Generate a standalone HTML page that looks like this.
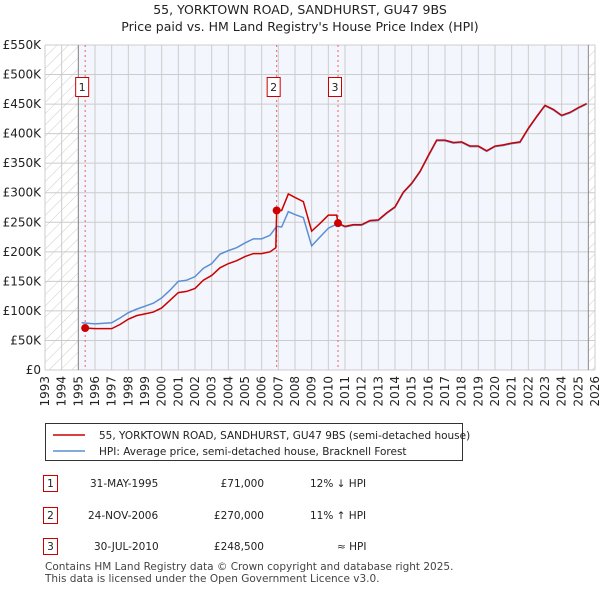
<!DOCTYPE html>
<html><head><meta charset="utf-8">
<style>
body{margin:0;background:#fff;font-family:"Liberation Sans","DejaVu Sans",sans-serif;}
svg text{font-family:"DejaVu Sans","Liberation Sans",sans-serif;}
</style></head>
<body>
<svg id="chart" width="600" height="590" viewBox="0 0 600 590" xmlns="http://www.w3.org/2000/svg">
<defs>
<pattern id="hatch" patternUnits="userSpaceOnUse" width="8" height="8" patternTransform="rotate(45)">
<line x1="0" y1="0" x2="0" y2="8" stroke="#ccc" stroke-width="1"/>
</pattern>
</defs>
<text x="300" y="14" font-size="12.5" text-anchor="middle" fill="#222">55, YORKTOWN ROAD, SANDHURST, GU47 9BS</text>
<text x="300" y="31" font-size="12.5" text-anchor="middle" fill="#222">Price paid vs. HM Land Registry's House Price Index (HPI)</text>
<g id="plot"></g>
<g>
<rect x="45.5" y="423.5" width="417" height="37" fill="#fff" stroke="#333"/>
<line x1="53" y1="435" x2="85" y2="435" stroke="#cc0000" stroke-width="1.5"/>
<text x="99" y="439" font-size="10.5" fill="#222">55, YORKTOWN ROAD, SANDHURST, GU47 9BS (semi-detached house)</text>
<line x1="53" y1="451" x2="85" y2="451" stroke="#5b8fd4" stroke-width="1.5"/>
<text x="99" y="455" font-size="10.5" fill="#222">HPI: Average price, semi-detached house, Bracknell Forest</text>
</g>
<g font-size="10.5" fill="#222">
<rect x="43.5" y="475.5" width="14" height="16" fill="#fff" stroke="#cc0000"/><text x="50.5" y="487" text-anchor="middle">1</text>
<text x="90" y="487">31-MAY-1995</text><text x="264" y="487" text-anchor="end">£71,000</text><text x="310" y="487">12% ↓ HPI</text>
<rect x="43.5" y="507.5" width="14" height="16" fill="#fff" stroke="#cc0000"/><text x="50.5" y="519" text-anchor="middle">2</text>
<text x="88" y="519">24-NOV-2006</text><text x="264" y="519" text-anchor="end">£270,000</text><text x="310" y="519">11% ↑ HPI</text>
<rect x="43.5" y="538.5" width="14" height="16" fill="#fff" stroke="#cc0000"/><text x="50.5" y="550" text-anchor="middle">3</text>
<text x="94" y="550">30-JUL-2010</text><text x="264" y="550" text-anchor="end">£248,500</text><text x="337" y="550">≈ HPI</text>
</g>
<text x="45" y="570" font-size="10.5" fill="#444">Contains HM Land Registry data © Crown copyright and database right 2025.</text>
<text x="45" y="582" font-size="10.5" fill="#444">This data is licensed under the Open Government Licence v3.0.</text>
</svg>
<script>
const hpiYears=[1995.2,1996,1997,1997.5,1998,1998.5,1999,1999.5,2000,2000.5,2001,2001.5,2002,2002.5,2003,2003.5,2004,2004.5,2005,2005.5,2006,2006.5,2006.9,2007.2,2007.6,2008,2008.5,2009,2009.5,2010,2010.58,2011,2011.5,2012,2012.5,2013,2013.5,2014,2014.5,2015,2015.5,2016,2016.5,2017,2017.5,2018,2018.5,2019,2019.5,2020,2020.5,2021,2021.5,2022,2022.5,2023,2023.5,2024,2024.5,2025,2025.5];
const hpiValues=[80,78,80,88,97,103,108,113,122,135,150,152,158,172,180,196,202,207,215,222,222,228,243,242,268,263,258,210,225,240,248,242,245,245,252,253,265,275,300,315,335,362,388,388,384,385,378,378,370,378,380,383,385,408,428,447,440,430,435,443,450];
const priceYears=[1995.41,1996,1997,1997.5,1998,1998.5,1999,1999.5,2000,2000.5,2001,2001.5,2002,2002.5,2003,2003.5,2004,2004.5,2005,2005.5,2006,2006.5,2006.85,2006.9,2007.2,2007.6,2008,2008.5,2009,2009.5,2010,2010.5,2010.58,2011,2011.5,2012,2012.5,2013,2013.5,2014,2014.5,2015,2015.5,2016,2016.5,2017,2017.5,2018,2018.5,2019,2019.5,2020,2020.5,2021,2021.5,2022,2022.5,2023,2023.5,2024,2024.5,2025,2025.5];
const priceValues=[71,70,70,77,86,92,95,98,105,118,131,133,138,152,160,173,180,185,192,197,197,200,207,270,270,298,292,285,235,248,262,262,248.5,243,246,246,253,254,266,276,301,316,336,363,389,389,385,386,379,379,371,379,381,384,386,409,429,448,441,431,436,444,451];
const saleYears=[1995.41,2006.9,2010.58];
const saleValues=[71,270,248.5];
const saleLabels=["1","2","3"];
const yTicks=[0,50,100,150,200,250,300,350,400,450,500,550];
const xTicks=[1993,1994,1995,1996,1997,1998,1999,2000,2001,2002,2003,2004,2005,2006,2007,2008,2009,2010,2011,2012,2013,2014,2015,2016,2017,2018,2019,2020,2021,2022,2023,2024,2025,2026];

const X0=45,X1=595,Y0=370,Y1=45;
const xs=y=>X0+(y-1993)*(X1-X0)/33;
const ys=v=>Y0-v*(Y0-Y1)/550;
const NS="http://www.w3.org/2000/svg";
const g=document.getElementById('plot');
function mk(t,a){const e=document.createElementNS(NS,t);for(const k in a)e.setAttribute(k,a[k]);g.appendChild(e);return e;}

let r=mk('rect',{x:X0,y:Y1,width:X1-X0,height:Y0-Y1,fill:'#fff'});


r=mk('rect',{x:xs(1995),y:Y1,width:xs(2025.6)-xs(1995),height:Y0-Y1,fill:'#f3f6fd'});


r=mk('rect',{x:X0,y:Y1,width:xs(1995)-X0,height:Y0-Y1,fill:'url(#hatch)'});


r=mk('rect',{x:xs(2025.6),y:Y1,width:X1-xs(2025.6),height:Y0-Y1,fill:'url(#hatch)'});



yTicks.forEach(v=>{
  const l=mk('line',{x1:X0,x2:X1,y1:ys(v),y2:ys(v),stroke:'#ccc','stroke-width':1});
  
  
  const t=mk('text',{x:X0-4,y:ys(v)+4,'font-size':12,'text-anchor':'end',fill:'#222'});
  
  
  t.textContent=v===0?'£0':'£'+v+'K';
});
xTicks.forEach(yr=>{
  const l=mk('line',{x1:xs(yr),x2:xs(yr),y1:Y1,y2:Y0,stroke:'#ccc','stroke-width':1});
  
  
  const t=mk('text',{x:0,y:0,'font-size':12,'text-anchor':'end',fill:'#222',transform:`translate(${xs(yr)+4},${Y0+6}) rotate(-90)`});
  
  
  t.textContent=yr;
});
let l=mk('line',{x1:xs(1995),x2:xs(1995),y1:Y1,y2:Y0,stroke:'#888'});


l=mk('line',{x1:xs(2025.6),x2:xs(2025.6),y1:Y1,y2:Y0,stroke:'#888'});



saleYears.forEach((yr,i)=>{
  const d=mk('line',{x1:xs(yr),x2:xs(yr),y1:Y1,y2:Y0,stroke:'#f06060','stroke-dasharray':'2,3'});
  
  
  const b=mk('rect',{x:xs(yr)-9.5,y:77.5,width:13,height:19,fill:'#fff',stroke:'#cc0000'});
  
  
  const t=mk('text',{x:xs(yr)-3,y:91,'font-size':11,'text-anchor':'middle',fill:'#222'});
  
  
  t.textContent=saleLabels[i];
});

let p=mk('polyline',{points:hpiYears.map((y,i)=>xs(y)+','+ys(hpiValues[i])).join(' '),fill:'none',stroke:'#5b8fd4','stroke-width':1.5});


p=mk('polyline',{points:priceYears.map((y,i)=>xs(y)+','+ys(priceValues[i])).join(' '),fill:'none',stroke:'#cc0000','stroke-width':1.5});


saleYears.forEach((yr,i)=>{
  const c=mk('circle',{cx:xs(yr),cy:ys(saleValues[i]),r:4,fill:'#cc0000'});
  
  
});
</script>
</body></html>
